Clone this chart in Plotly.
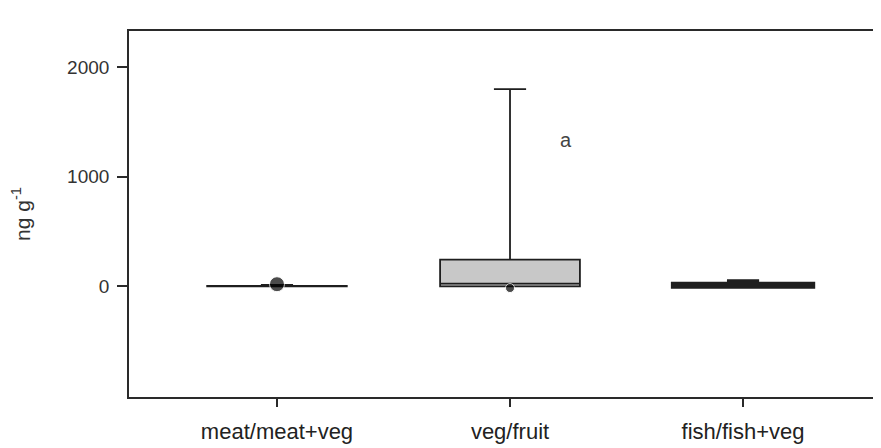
import plotly.graph_objects as go

categories = ["meat/meat+veg", "veg/fruit", "fish/fish+veg"]
q1 = [0, 0, 0]
median = [0, 25, 10]
q3 = [5, 245, 22]
lower_fence = [0, 0, 0]
upper_fence = [15, 1800, 45]
outlier_cat = ["meat/meat+veg", "veg/fruit"]
outlier_val = [20, -15]
y_ticks = [0, 1000, 2000]
letter_label = "a"
letter_y = 1340

fig = go.Figure()
fill_colors = ["#d0d0d0", "#c8c8c8", "#d0d0d0"]
line_widths = [1.6, 1.8, 4.5]
for i, c in enumerate(categories):
    fig.add_trace(go.Box(
        x=[c], q1=[q1[i]], median=[median[i]], q3=[q3[i]],
        lowerfence=[lower_fence[i]], upperfence=[upper_fence[i]],
        width=0.6, whiskerwidth=0.23,
        fillcolor=fill_colors[i],
        line=dict(color="#1e1e1e", width=line_widths[i]),
        boxpoints=False, showlegend=False, hoverinfo="skip",
    ))

fig.add_trace(go.Scatter(
    x=outlier_cat, y=outlier_val, mode="markers",
    marker=dict(color="#000000", size=[15, 9]), showlegend=False,
    hoverinfo="skip",
))

fig.add_annotation(x=1.24, y=letter_y, text=letter_label, showarrow=False,
                   font=dict(size=20, color="#444444", family="Liberation Sans"))

# page body has an 8px margin, so the figure is offset by 8px
fig.update_layout(
    width=873, height=436,
    margin=dict(l=121, r=0, t=23, b=45),
    plot_bgcolor="white", paper_bgcolor="white",
    font=dict(family="Liberation Sans, Arial", color="#333333"),
    xaxis=dict(
        type="category", categoryorder="array", categoryarray=categories,
        range=[-0.635, 2.592],
        showline=True, linecolor="#2a2a2a", linewidth=1.6, mirror=True,
        ticks="outside", ticklen=8, tickcolor="#2a2a2a", tickwidth=1.5,
        tickfont=dict(size=22, color="#222222"), ticklabelstandoff=6,
        showgrid=False, zeroline=False,
    ),
    yaxis=dict(
        range=[-1009, 2330], tickvals=y_ticks,
        showline=True, linecolor="#2a2a2a", linewidth=1.6,
        ticks="outside", ticklen=10, tickcolor="#2a2a2a", tickwidth=1.5,
        tickfont=dict(size=19, color="#333333"), ticklabelstandoff=4,
        showgrid=False, zeroline=False,
        title=dict(text="ng g<sup>-1</sup>", font=dict(size=21, color="#333333"), standoff=42),
    ),
)

fig.write_html("out.html")
